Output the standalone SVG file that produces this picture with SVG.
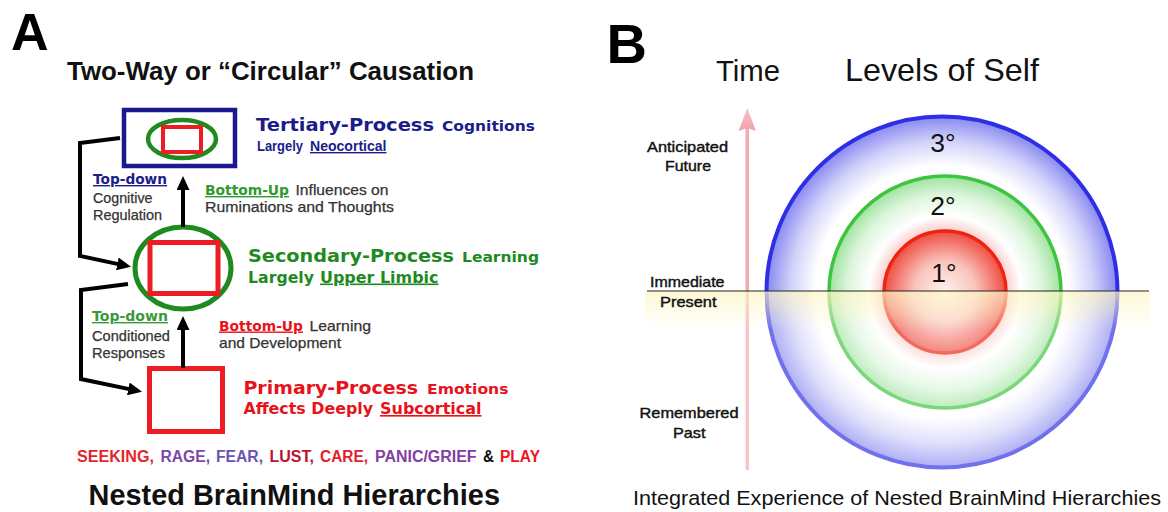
<svg xmlns="http://www.w3.org/2000/svg" width="1168" height="512" viewBox="0 0 1168 512">
  <style>
    .panel { font-family: "Liberation Sans", Arial, sans-serif; font-weight: bold; fill: #000; }
    .title { font-family: "Liberation Sans", Arial, sans-serif; font-weight: bold; fill: #111; }
    .wide { font-family: "DejaVu Sans", Verdana, sans-serif; font-weight: bold; }
    .narrow { font-family: "Liberation Sans", Arial, sans-serif; font-weight: bold; }
    .plain { font-family: "Liberation Sans", Arial, sans-serif; fill: #333; stroke: #333; stroke-width: 0.25; }
    .navy { fill: #1c1c8a; }
    .grn { fill: #1f8a1f; }
    .red { fill: #e8121a; }
    .u { text-decoration: underline; }
    .conn { fill: none; stroke: #000; stroke-width: 4; stroke-linejoin: miter; }
    .emo { font-family: "Liberation Sans", Arial, sans-serif; font-weight: bold; font-size: 16px; }
    .b { font-family: "Liberation Sans", Arial, sans-serif; fill: #111; }
    .lab { font-family: "Liberation Sans", Arial, sans-serif; fill: #111; stroke: #111; stroke-width: 0.4; font-size: 14.5px; }
  </style>
  <defs>
    <marker id="head" markerUnits="userSpaceOnUse" markerWidth="14" markerHeight="13" refX="1" refY="6.5" orient="auto">
      <path d="M0,0 L14,6.5 L0,13 Z" fill="#000"/>
    </marker>
    <radialGradient id="gBlue" cx="0.5" cy="0.5" r="0.5">
      <stop offset="0" stop-color="#ffffff"/>
      <stop offset="0.72" stop-color="#ffffff"/>
      <stop offset="0.86" stop-color="#d2d2fa"/>
      <stop offset="1" stop-color="#8888f0"/>
    </radialGradient>
    <radialGradient id="gGreen" cx="0.5" cy="0.5" r="0.5">
      <stop offset="0" stop-color="#ffffff"/>
      <stop offset="0.66" stop-color="#ffffff"/>
      <stop offset="0.84" stop-color="#dcf5dc"/>
      <stop offset="1" stop-color="#9ee39e"/>
    </radialGradient>
    <radialGradient id="gRed" cx="0.5" cy="0.5" r="0.5">
      <stop offset="0" stop-color="#fff2ee"/>
      <stop offset="0.5" stop-color="#fac4be"/>
      <stop offset="1" stop-color="#ef4c42"/>
    </radialGradient>
    <radialGradient id="gGlow" cx="0.5" cy="0.5" r="0.5">
      <stop offset="0.78" stop-color="#f7a0a0" stop-opacity="0.6"/>
      <stop offset="1" stop-color="#f7a0a0" stop-opacity="0"/>
    </radialGradient>
    <linearGradient id="gBand" x1="0" y1="0" x2="0" y2="1">
      <stop offset="0" stop-color="#fdf4b8" stop-opacity="0.6"/>
      <stop offset="1" stop-color="#fdf4b8" stop-opacity="0"/>
    </linearGradient>
    <linearGradient id="gArrow" x1="0" y1="0" x2="0" y2="1">
      <stop offset="0" stop-color="#f7c4c8"/>
      <stop offset="1" stop-color="#f2a2a8"/>
    </linearGradient>
  </defs>

  <rect width="1168" height="512" fill="#fff"/>

  <!-- ===== Panel A ===== -->
  <text class="panel" x="11" y="50" font-size="52">A</text>
  <text class="title" x="67" y="80" font-size="25.5" textLength="407" lengthAdjust="spacingAndGlyphs">Two-Way or “Circular” Causation</text>

  <g id="tertiary">
    <rect x="124" y="110" width="111" height="56" fill="none" stroke="#1a1a8e" stroke-width="4.5"/>
    <ellipse cx="182" cy="139" rx="34" ry="19" fill="none" stroke="#1f8a1f" stroke-width="4.5"/>
    <rect x="163" y="127" width="38" height="25" fill="none" stroke="#ee1c24" stroke-width="4"/>
    <text class="wide navy" x="256" y="130.5" font-size="17.5" textLength="178" lengthAdjust="spacingAndGlyphs">Tertiary-Process</text>
    <text class="wide navy" x="442" y="130.5" font-size="14" textLength="93" lengthAdjust="spacingAndGlyphs">Cognitions</text>
    <text class="narrow navy" x="257" y="151" font-size="14" textLength="46" lengthAdjust="spacingAndGlyphs">Largely</text>
    <text class="narrow navy u" x="310" y="151" font-size="14" textLength="76.5" lengthAdjust="spacingAndGlyphs">Neocortical</text>
  </g>

  <g id="secondary">
    <ellipse cx="183" cy="268" rx="48" ry="41" fill="none" stroke="#1f8a1f" stroke-width="5"/>
    <rect x="150" y="242.5" width="68" height="51" fill="none" stroke="#ee1c24" stroke-width="5"/>
    <text class="wide grn" x="248" y="262" font-size="17.5" textLength="206" lengthAdjust="spacingAndGlyphs">Secondary-Process</text>
    <text class="wide grn" x="462" y="262" font-size="14" textLength="77" lengthAdjust="spacingAndGlyphs">Learning</text>
    <text class="wide grn" x="248" y="282.5" font-size="16" textLength="66" lengthAdjust="spacingAndGlyphs">Largely</text>
    <text class="wide grn u" x="320" y="282.5" font-size="16" textLength="118.5" lengthAdjust="spacingAndGlyphs">Upper Limbic</text>
  </g>

  <g id="primary">
    <rect x="149.5" y="368.5" width="73" height="63" fill="none" stroke="#ee1c24" stroke-width="5"/>
    <text class="wide red" x="243.5" y="394" font-size="17.5" textLength="174.5" lengthAdjust="spacingAndGlyphs">Primary-Process</text>
    <text class="wide red" x="427" y="394" font-size="14" textLength="81.5" lengthAdjust="spacingAndGlyphs">Emotions</text>
    <text class="wide red" x="243.5" y="414" font-size="16" textLength="129.5" lengthAdjust="spacingAndGlyphs">Affects Deeply</text>
    <text class="wide red u" x="380" y="414" font-size="16" textLength="101.5" lengthAdjust="spacingAndGlyphs">Subcortical</text>
  </g>

  <g id="connectors">
    <path class="conn" d="M120,138 L80,143 L80,256 L118.3,264.1" marker-end="url(#head)"/>
    <path class="conn" d="M128,284 L81,290 L81,379 L129.3,389.1" marker-end="url(#head)"/>
    <path class="conn" d="M183,227 L183,189" marker-end="url(#head)"/>
    <path class="conn" d="M183,368 L183,329" marker-end="url(#head)"/>
  </g>

  <g id="labels-top-down">
    <text class="wide navy u" x="93" y="184" font-size="14" textLength="74" lengthAdjust="spacingAndGlyphs">Top-down</text>
    <text class="plain" x="93" y="202.5" font-size="15" textLength="59.5" lengthAdjust="spacingAndGlyphs">Cognitive</text>
    <text class="plain" x="93" y="220" font-size="15" textLength="69" lengthAdjust="spacingAndGlyphs">Regulation</text>
    <text class="wide u" fill="#3a9a3a" x="92" y="321" font-size="14" textLength="76" lengthAdjust="spacingAndGlyphs">Top-down</text>
    <text class="plain" x="92" y="340.5" font-size="15" textLength="78" lengthAdjust="spacingAndGlyphs">Conditioned</text>
    <text class="plain" x="92" y="357.5" font-size="15" textLength="73" lengthAdjust="spacingAndGlyphs">Responses</text>
  </g>

  <g id="labels-bottom-up">
    <text class="wide u" fill="#2f9a2f" x="205" y="195" font-size="14" textLength="84" lengthAdjust="spacingAndGlyphs">Bottom-Up</text>
    <text class="plain" x="295.5" y="195" font-size="15" textLength="93" lengthAdjust="spacingAndGlyphs">Influences on</text>
    <text class="plain" x="205" y="212" font-size="15" textLength="189" lengthAdjust="spacingAndGlyphs">Ruminations and Thoughts</text>
    <text class="wide red u" x="219" y="330.5" font-size="14" textLength="84" lengthAdjust="spacingAndGlyphs">Bottom-Up</text>
    <text class="plain" x="309.5" y="330.5" font-size="15" textLength="61.5" lengthAdjust="spacingAndGlyphs">Learning</text>
    <text class="plain" x="219" y="348" font-size="15" textLength="122" lengthAdjust="spacingAndGlyphs">and Development</text>
  </g>

  <g id="emotions">
    <text class="emo" fill="#e3262e" x="77" y="461.5" textLength="77" lengthAdjust="spacingAndGlyphs">SEEKING,</text>
    <text class="emo" fill="#7a48a8" x="160.5" y="461.5" textLength="49.5" lengthAdjust="spacingAndGlyphs">RAGE,</text>
    <text class="emo" fill="#6a52b4" x="216" y="461.5" textLength="47" lengthAdjust="spacingAndGlyphs">FEAR,</text>
    <text class="emo" fill="#c0122e" x="269.5" y="461.5" textLength="44.5" lengthAdjust="spacingAndGlyphs">LUST,</text>
    <text class="emo" fill="#e3202c" x="320" y="461.5" textLength="48" lengthAdjust="spacingAndGlyphs">CARE,</text>
    <text class="emo" fill="#8040a4" x="375" y="461.5" textLength="101.5" lengthAdjust="spacingAndGlyphs">PANIC/GRIEF</text>
    <text class="emo" fill="#111" x="483" y="461.5" textLength="11" lengthAdjust="spacingAndGlyphs">&amp;</text>
    <text class="emo" fill="#f0141c" x="500" y="461.5" textLength="40" lengthAdjust="spacingAndGlyphs">PLAY</text>
  </g>

  <text class="title" x="88.5" y="505" font-size="29" textLength="411.5" lengthAdjust="spacingAndGlyphs">Nested BrainMind Hierarchies</text>

  <!-- ===== Panel B ===== -->
  <text class="panel" x="606.5" y="63" font-size="56">B</text>
  <text class="b" x="716" y="80.5" font-size="30" textLength="64" lengthAdjust="spacingAndGlyphs">Time</text>
  <text class="b" x="845" y="80.5" font-size="30.5" textLength="194" lengthAdjust="spacingAndGlyphs">Levels of Self</text>

  <!-- time axis -->
  <rect x="745.5" y="128" width="3.5" height="342" fill="#f3aab0"/>
  <path d="M747.3,108 L756,131 L747.3,128 L738.6,131 Z" fill="url(#gArrow)"/>

  <!-- nested levels -->
  <circle cx="942" cy="292" r="175.5" fill="url(#gBlue)" stroke="#2e2ee6" stroke-width="4"/>
  <circle cx="945" cy="292" r="116" fill="url(#gGreen)" stroke="#3ec43e" stroke-width="3.5"/>
  <circle cx="945" cy="292" r="76" fill="url(#gGlow)"/>
  <circle cx="945" cy="292" r="61" fill="url(#gRed)" stroke="#ec2410" stroke-width="3.5"/>

  <!-- past half is hazier, with a warm band at the present -->
  <rect x="645" y="291" width="505" height="180" fill="#ffffff" fill-opacity="0.32"/>
  <rect x="645" y="291" width="505" height="38" fill="url(#gBand)"/>
  <line x1="647" y1="291" x2="1149" y2="291" stroke="#222" stroke-width="1.2"/>

  <text class="b" x="943" y="152" font-size="26.5" text-anchor="middle">3°</text>
  <text class="b" x="943" y="215" font-size="26.5" text-anchor="middle">2°</text>
  <text class="b" x="944" y="282" font-size="26.5" text-anchor="middle">1°</text>

  <text class="lab" x="647" y="151.5" textLength="81" lengthAdjust="spacingAndGlyphs">Anticipated</text>
  <text class="lab" x="665" y="170.5" textLength="46" lengthAdjust="spacingAndGlyphs">Future</text>
  <text class="lab" x="650" y="286.5" textLength="74.5" lengthAdjust="spacingAndGlyphs">Immediate</text>
  <text class="lab" x="660" y="307" textLength="56.5" lengthAdjust="spacingAndGlyphs">Present</text>
  <text class="lab" x="639.5" y="418" textLength="99" lengthAdjust="spacingAndGlyphs">Remembered</text>
  <text class="lab" x="673" y="437.5" textLength="32.5" lengthAdjust="spacingAndGlyphs">Past</text>

  <text class="b" x="633" y="505" font-size="21" textLength="528" lengthAdjust="spacingAndGlyphs">Integrated Experience of Nested BrainMind Hierarchies</text>
</svg>
